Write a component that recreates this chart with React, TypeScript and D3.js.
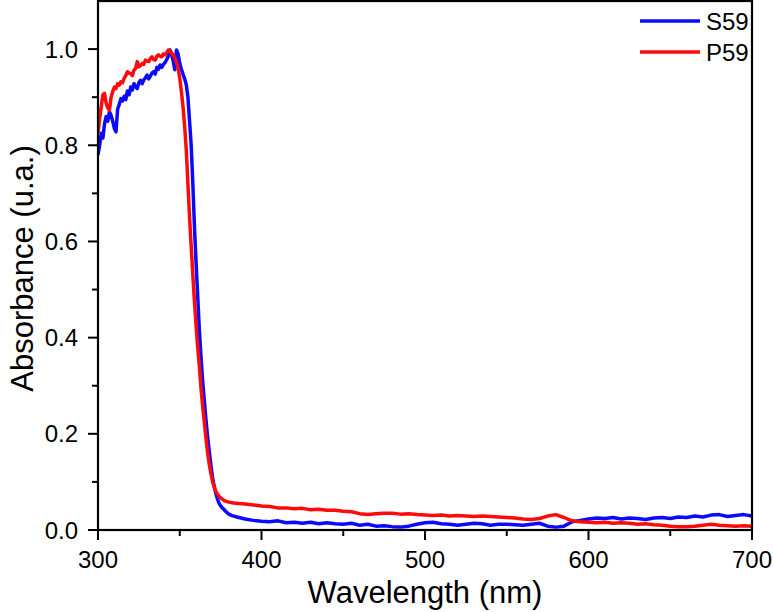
import React, { useRef, useEffect } from "react";
import { select, scaleLinear, line, range } from "d3";

// S59 spectrum
const s59Wavelength = [
  300, 301, 302, 303, 304, 305, 306, 307, 308, 309, 310, 311, 312, 313, 314, 315, 316, 317, 318, 319,
  320, 321, 322, 323, 324, 325, 326, 327, 328, 329, 330, 331, 332, 333, 334, 335, 336, 337, 338, 339,
  340, 341, 342, 343, 344, 345, 346, 347, 348, 349, 350, 351, 352, 353, 354, 355, 356, 357, 358, 359,
  360, 361, 362, 363, 364, 365, 366, 367, 368, 369, 370, 371, 372, 373, 374, 375, 376, 377, 378, 380,
  382, 385, 390, 395, 400, 405, 410, 415, 420, 425, 430, 435, 440, 445, 450, 455, 460, 465, 470, 475,
  480, 485, 490, 495, 500, 505, 510, 515, 520, 525, 530, 535, 540, 545, 550, 555, 560, 565, 570, 575,
  580, 585, 590, 595, 600, 605, 610, 615, 620, 625, 630, 635, 640, 645, 650, 655, 660, 665, 670, 675,
  680, 685, 690, 695, 700,
];
const s59Absorbance = [
  0.780, 0.800, 0.825, 0.815, 0.845, 0.860, 0.850, 0.870, 0.862, 0.850, 0.835, 0.828, 0.875, 0.885, 0.897, 0.892, 0.902, 0.895, 0.913, 0.905,
  0.921, 0.915, 0.928, 0.922, 0.918, 0.930, 0.935, 0.928, 0.936, 0.940, 0.946, 0.938, 0.944, 0.950, 0.953, 0.948, 0.962, 0.958, 0.967, 0.962,
  0.968, 0.972, 0.978, 0.985, 0.998, 0.990, 0.975, 0.957, 0.998, 0.990, 0.970, 0.958, 0.948, 0.938, 0.926, 0.900, 0.850, 0.800, 0.720, 0.630,
  0.555, 0.485, 0.415, 0.360, 0.310, 0.270, 0.230, 0.195, 0.165, 0.137, 0.110, 0.092, 0.077, 0.065, 0.056, 0.050, 0.046, 0.043, 0.039, 0.033,
  0.030, 0.027, 0.023, 0.020, 0.018, 0.017, 0.019, 0.015, 0.016, 0.014, 0.016, 0.013, 0.015, 0.013, 0.012, 0.014, 0.010, 0.012, 0.008, 0.009,
  0.007, 0.006, 0.008, 0.012, 0.015, 0.016, 0.013, 0.012, 0.010, 0.012, 0.014, 0.013, 0.010, 0.012, 0.012, 0.011, 0.010, 0.012, 0.014, 0.008,
  0.006, 0.008, 0.017, 0.020, 0.023, 0.025, 0.024, 0.026, 0.023, 0.025, 0.024, 0.022, 0.025, 0.026, 0.024, 0.027, 0.026, 0.029, 0.027, 0.031,
  0.032, 0.028, 0.030, 0.032, 0.029,
];

// P59 spectrum
const p59Wavelength = [
  300, 301, 302, 303, 304, 305, 306, 307, 308, 309, 310, 311, 312, 313, 314, 315, 316, 317, 318, 319,
  320, 321, 322, 323, 324, 325, 326, 327, 328, 329, 330, 331, 332, 333, 334, 335, 336, 337, 338, 339,
  340, 341, 342, 343, 344, 345, 346, 347, 348, 349, 350, 351, 352, 353, 354, 355, 356, 357, 358, 359,
  360, 361, 362, 363, 364, 365, 366, 367, 368, 369, 370, 371, 372, 373, 374, 375, 376, 378, 380, 383,
  386, 390, 395, 400, 405, 410, 415, 420, 425, 430, 435, 440, 445, 450, 455, 460, 465, 470, 475, 480,
  485, 490, 495, 500, 505, 510, 515, 520, 525, 530, 535, 540, 545, 550, 555, 560, 565, 570, 575, 580,
  585, 590, 595, 600, 605, 610, 615, 620, 625, 630, 635, 640, 645, 650, 655, 660, 665, 670, 675, 680,
  685, 690, 695, 700,
];
const p59Absorbance = [
  0.825, 0.855, 0.880, 0.905, 0.908, 0.887, 0.878, 0.873, 0.900, 0.912, 0.921, 0.918, 0.928, 0.925, 0.932, 0.930, 0.939, 0.945, 0.953, 0.950,
  0.949, 0.945, 0.956, 0.960, 0.974, 0.963, 0.966, 0.970, 0.968, 0.977, 0.975, 0.974, 0.980, 0.984, 0.978, 0.977, 0.985, 0.988, 0.985, 0.984,
  0.990, 0.988, 0.992, 0.998, 0.996, 0.991, 0.988, 0.982, 0.972, 0.960, 0.940, 0.912, 0.880, 0.840, 0.790, 0.720, 0.650, 0.590, 0.530, 0.475,
  0.425, 0.380, 0.340, 0.295, 0.258, 0.225, 0.192, 0.162, 0.138, 0.118, 0.102, 0.090, 0.081, 0.075, 0.070, 0.067, 0.064, 0.060, 0.058, 0.056,
  0.055, 0.054, 0.052, 0.050, 0.049, 0.046, 0.046, 0.044, 0.045, 0.042, 0.043, 0.041, 0.041, 0.039, 0.038, 0.034, 0.032, 0.034, 0.035, 0.035,
  0.033, 0.034, 0.032, 0.031, 0.030, 0.031, 0.029, 0.030, 0.029, 0.028, 0.029, 0.028, 0.027, 0.026, 0.025, 0.023, 0.022, 0.024, 0.029, 0.032,
  0.026, 0.019, 0.017, 0.016, 0.015, 0.016, 0.014, 0.015, 0.014, 0.012, 0.013, 0.011, 0.010, 0.008, 0.007, 0.007, 0.008, 0.010, 0.012, 0.010,
  0.009, 0.008, 0.009, 0.008,
];

const seriesNames = ["S59", "P59"];
const seriesColors = ["#0a0aff", "#ff0a0a"];

const xMajorTicks = [300, 400, 500, 600, 700];
const xMinorTicks = [350, 450, 550, 650];
const yMajorTicks = [0.0, 0.2, 0.4, 0.6, 0.8, 1.0];
const yMinorTicks = [0.1, 0.3, 0.5, 0.7, 0.9];

const W = 773;
const H = 612;
const margin = { top: 1, right: 21, bottom: 82, left: 98 };
const font = "'Liberation Sans', Arial, sans-serif";

export default function App() {
  const svgRef = useRef<SVGSVGElement>(null);

  useEffect(() => {
    const svg = select(svgRef.current);
    svg.selectAll("*").remove();

    const x0 = margin.left;
    const x1 = W - margin.right;
    const y0 = H - margin.bottom;
    const y1 = margin.top;

    const xScale = scaleLinear().domain([300, 700]).range([x0, x1]);
    const yScale = scaleLinear().domain([0, 1.1]).range([y0, y1]);

    svg.append("clipPath").attr("id", "plot-clip")
      .append("rect")
      .attr("x", x0).attr("y", y1)
      .attr("width", x1 - x0).attr("height", y0 - y1);

    // spectra
    const spectra = [
      range(s59Wavelength.length).map(i => [s59Wavelength[i], s59Absorbance[i]]),
      range(p59Wavelength.length).map(i => [p59Wavelength[i], p59Absorbance[i]]),
    ];
    const myLine = line<number[]>()
      .x(d => xScale(d[0]))
      .y(d => yScale(d[1]));

    svg.append("g")
      .attr("clip-path", "url(#plot-clip)")
      .selectAll("path")
      .data(spectra)
      .join("path")
      .attr("d", d => myLine(d))
      .attr("fill", "none")
      .attr("stroke", (d, i) => seriesColors[i])
      .attr("stroke-width", 3.5)
      .attr("stroke-linejoin", "round");

    // frame
    svg.append("rect")
      .attr("x", x0).attr("y", y1)
      .attr("width", x1 - x0).attr("height", y0 - y1)
      .attr("fill", "none")
      .attr("stroke", "#000")
      .attr("stroke-width", 2.2);

    // x ticks
    const gx = svg.append("g");
    gx.selectAll(".xmaj").data(xMajorTicks).join("line")
      .attr("x1", d => xScale(d)).attr("x2", d => xScale(d))
      .attr("y1", y0).attr("y2", y0 + 10)
      .attr("stroke", "#000").attr("stroke-width", 2);
    gx.selectAll(".xmin").data(xMinorTicks).join("line")
      .attr("x1", d => xScale(d)).attr("x2", d => xScale(d))
      .attr("y1", y0).attr("y2", y0 + 6)
      .attr("stroke", "#000").attr("stroke-width", 2);
    gx.selectAll("text").data(xMajorTicks).join("text")
      .attr("x", d => xScale(d))
      .attr("y", y0 + 38)
      .attr("text-anchor", "middle")
      .attr("font-family", font)
      .attr("font-size", 24)
      .text(d => d);

    // y ticks
    const gy = svg.append("g");
    gy.selectAll(".ymaj").data(yMajorTicks).join("line")
      .attr("x1", x0 - 10).attr("x2", x0)
      .attr("y1", d => yScale(d)).attr("y2", d => yScale(d))
      .attr("stroke", "#000").attr("stroke-width", 2);
    gy.selectAll(".ymin").data(yMinorTicks).join("line")
      .attr("x1", x0 - 6).attr("x2", x0)
      .attr("y1", d => yScale(d)).attr("y2", d => yScale(d))
      .attr("stroke", "#000").attr("stroke-width", 2);
    gy.selectAll("text").data(yMajorTicks).join("text")
      .attr("x", x0 - 20)
      .attr("y", d => yScale(d))
      .attr("dy", "0.36em")
      .attr("text-anchor", "end")
      .attr("font-family", font)
      .attr("font-size", 24)
      .text(d => d.toFixed(1));

    // axis titles
    svg.append("text")
      .attr("x", (x0 + x1) / 2)
      .attr("y", 603)
      .attr("text-anchor", "middle")
      .attr("font-family", font)
      .attr("font-size", 31)
      .text("Wavelength (nm)");

    svg.append("text")
      .attr("transform", `translate(33, ${(y0 + y1) / 2 + 3}) rotate(-90)`)
      .attr("text-anchor", "middle")
      .attr("font-family", font)
      .attr("font-size", 31)
      .text("Absorbance (u.a.)");

    // legend
    const legend = svg.append("g");
    seriesNames.forEach((name, i) => {
      const ly = 21 + i * 31;
      legend.append("line")
        .attr("x1", 640).attr("x2", 700)
        .attr("y1", ly).attr("y2", ly)
        .attr("stroke", seriesColors[i])
        .attr("stroke-width", 3.5);
      legend.append("text")
        .attr("x", 706)
        .attr("y", ly)
        .attr("dy", "0.36em")
        .attr("font-family", font)
        .attr("font-size", 24)
        .text(name);
    });
  }, []);

  return (
    <svg
      ref={svgRef}
      width={W}
      height={H}
      style={{ position: "absolute", left: 0, top: 0, background: "#fff" }}
    />
  );
}
